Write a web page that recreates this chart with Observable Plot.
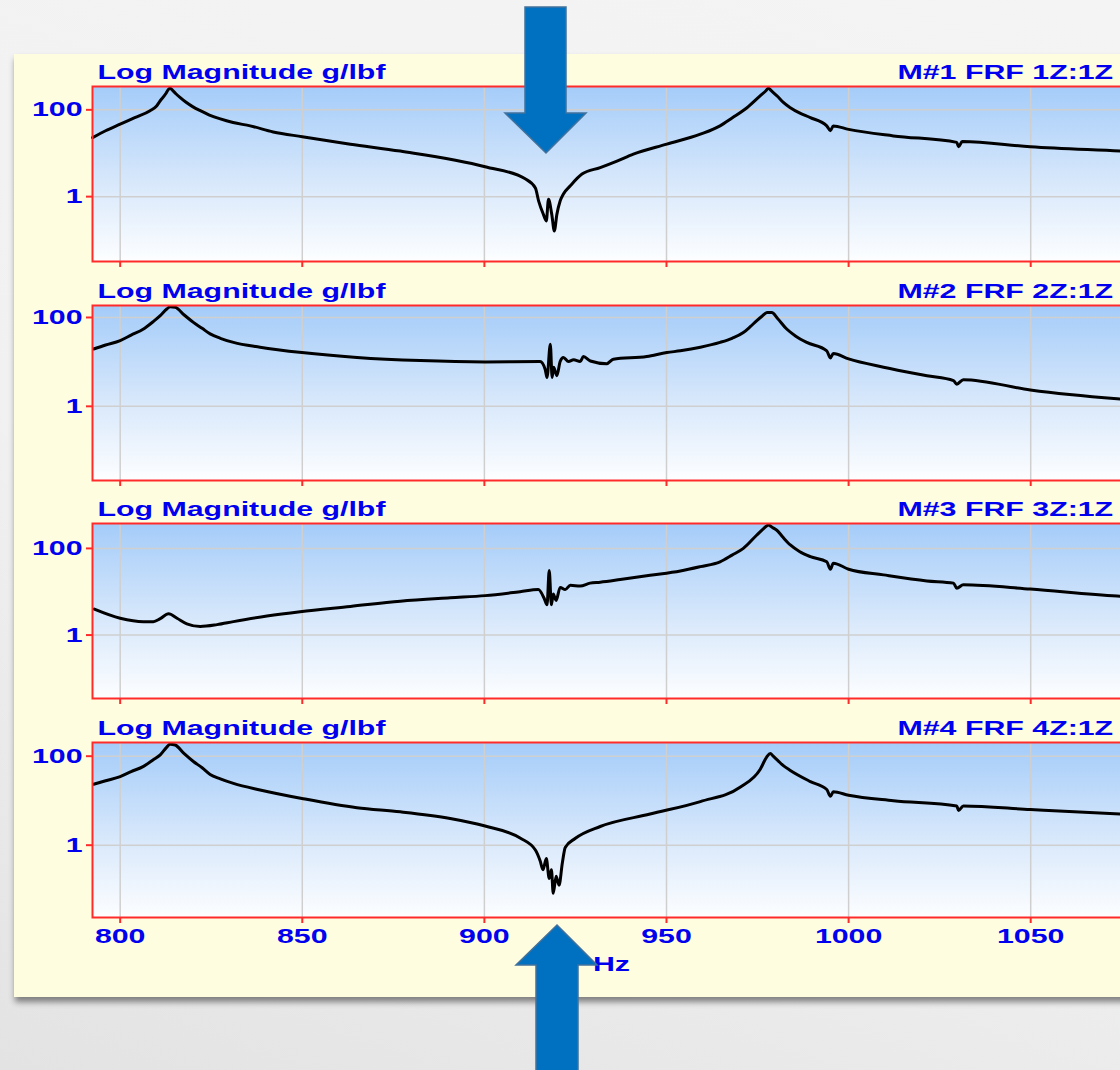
<!DOCTYPE html>
<html><head><meta charset="utf-8">
<script src="https://cdn.jsdelivr.net/npm/d3@7"></script>
<script src="https://cdn.jsdelivr.net/npm/@observablehq/plot@0.6"></script>
<style>
html,body{margin:0;padding:0;width:1120px;height:1070px;overflow:hidden;}
body{position:relative;background:linear-gradient(200deg,#f4f4f4 0%,#f1f1f1 55%,#e3e3e3 100%);font-family:"Liberation Sans",Arial,sans-serif;}
#card{position:absolute;left:14px;top:54px;width:1200px;height:943px;background:#fffde0;box-shadow:1px 5px 6px rgba(0,0,0,0.45);}
.panel{position:absolute;left:0;width:1140px;}
.panel svg{max-width:none !important;}
#arrows{position:absolute;left:0;top:0;z-index:10;}
</style></head><body>
<div id="card"></div>
<div id="charts"></div>
<svg id="arrows" width="1120" height="1070">
  <path d="M525,7 H566 V113 H586 L546,153 L505,113 H525 Z" fill="#0070c0" stroke="#41719c" stroke-width="1.5"/>
  <path d="M557,925 L597,965 H578 V1080 H536 V965 H516 Z" fill="#0070c0" stroke="#41719c" stroke-width="1.5"/>
</svg>
<script>
// ---- data ----
const xTicks = [800, 850, 900, 950, 1000, 1050];
const yTicks = [1, 100];
const yLabel = "Log Magnitude g/lbf";
const xLabel = "Hz";
const titles = ["M#1 FRF 1Z:1Z", "M#2 FRF 2Z:1Z", "M#3 FRF 3Z:1Z", "M#4 FRF 4Z:1Z"];
const xDomain = [792.4, 1077.4];
const yDomains = [[0.032, 345], [0.0214, 186], [0.0343, 376], [0.0237, 203]];

const freq1 = [792.4, 796, 800, 804, 808.2, 810, 811, 812.5, 813.1, 813.7, 814.4, 815.3, 816.5, 818, 820, 822, 824.5, 827.5, 831, 835.7, 842, 850, 863.2, 876.9, 900.2, 911.2, 914, 914.9, 916.2, 917, 917.6, 918.5, 919.2, 919.9, 920.8, 921.7, 923.6, 926.8, 931.8, 936.4, 940.9, 950.1, 959.3, 964.7, 968, 972.1, 975.7, 977.3, 978, 978.7, 980.6, 982, 984, 986.5, 989.5, 994, 995, 995.8, 1000, 1012.3, 1029.7, 1030.2, 1031.2, 1049.9, 1074.6, 1077.4];
const mag1 = [22.9, 33, 46.8, 66, 95.5, 123, 162, 234, 285, 316, 280, 235, 191, 151, 117, 95.5, 76, 61.7, 51, 42.7, 31, 24.0, 16.2, 11.2, 4.90, 2.57, 1.58, 0.79, 0.39, 0.275, 0.87, 0.39, 0.162, 0.39, 0.79, 1.15, 1.78, 3.31, 4.68, 6.61, 9.55, 16.2, 27.5, 42.7, 65, 112, 209, 275, 316, 280, 200, 150, 112, 85, 66.1, 42.7, 33.1, 42.7, 35.5, 25.1, 17.8, 14.1, 18.6, 14.1, 11.2, 10.9];

const freq2 = [792.7, 796, 800, 803, 806.4, 809, 811, 812.8, 813.7, 815.1, 817.5, 820.1, 822.5, 824.7, 827.5, 831.1, 838.4, 849.9, 865, 882.4, 900.2, 915.3, 916.7, 917.2, 918.1, 918.6, 919, 919.9, 920.8, 921.7, 923.1, 924.5, 926.3, 927.2, 929.1, 933.6, 935.4, 944.6, 950.1, 953.8, 959.3, 964.7, 968, 971.1, 973, 974.8, 976.3, 977.6, 978.9, 980.5, 983, 985.5, 988.5, 994, 995, 995.8, 1000, 1009.6, 1021.5, 1028.8, 1029.7, 1031.5, 1049.9, 1073.7, 1077.4];
const mag2 = [19.5, 24, 30.2, 40, 55.0, 80, 110, 155, 174, 170, 115, 77.6, 57, 42.7, 34, 27.5, 21.4, 16.2, 12.6, 10.7, 10.0, 10.2, 6.76, 4.47, 25.1, 4.47, 7.59, 4.90, 10.2, 12.6, 10.2, 11.2, 10.2, 13.2, 10.5, 9.12, 11.5, 13.2, 16.2, 17.8, 21.4, 27.5, 34, 45.7, 62, 85.1, 108, 129, 129, 95, 55.0, 38, 27.5, 17.8, 12.3, 15.5, 11.7, 7.59, 4.90, 3.80, 3.16, 3.98, 2.34, 1.48, 1.40];

const freq3 = [792.9, 800, 806.4, 809.1, 811, 813.3, 815.6, 818.3, 822, 826.6, 831.1, 840.3, 849.4, 863.2, 876.9, 890.6, 900.2, 909.8, 914.8, 916.4, 917.2, 917.8, 918.4, 918.9, 919.7, 920.8, 922.2, 923.6, 926.3, 929, 931.8, 937.3, 945.5, 953.8, 959.3, 964.7, 968, 971.1, 974.8, 976.5, 977.4, 978, 978.6, 979.2, 980.3, 982, 984, 986.5, 989.5, 994, 995, 995.8, 1000, 1009.6, 1021.5, 1028.8, 1029.7, 1031.5, 1049.9, 1073.7, 1077.4];
const mag3 = [3.98, 2.45, 2.04, 2.04, 2.40, 3.09, 2.45, 1.82, 1.58, 1.74, 2.04, 2.75, 3.47, 4.57, 6.03, 7.24, 8.13, 10.0, 11.2, 7.08, 5.01, 30.9, 5.01, 8.91, 6.31, 12.6, 11.2, 14.1, 13.5, 15.8, 16.6, 19.1, 24.0, 30.2, 38.0, 49.0, 70, 100, 204, 280, 325, 347, 325, 300, 263, 180, 120, 85, 64.6, 49.0, 33.1, 45.7, 33.1, 24.5, 17.8, 15.8, 12.0, 14.5, 11.5, 7.94, 7.7];

const freq4 = [792.7, 796, 800, 803, 806.4, 809, 811, 812.8, 813.7, 815.1, 817.5, 820.1, 822.5, 824.7, 827.5, 831.1, 838.4, 849.9, 865, 876.9, 890.6, 900.2, 909.8, 914, 915.3, 916.1, 917, 917.8, 918.4, 918.9, 919.7, 920.5, 921.4, 922.2, 924.9, 931.8, 945.5, 959.3, 970.2, 975.7, 977.5, 978.5, 979.3, 980.6, 982, 984, 989.5, 994, 995, 995.8, 1000, 1012.3, 1029.7, 1030.2, 1031.5, 1049.9, 1074.6, 1077.4];
const mag4 = [23.4, 28, 34.7, 45, 58.9, 82, 107, 160, 186, 178, 115, 75.9, 55, 38.9, 31, 24.5, 17.4, 11.2, 6.92, 5.62, 3.98, 2.69, 1.45, 0.78, 0.447, 0.282, 0.50, 0.178, 0.282, 0.083, 0.20, 0.126, 0.398, 0.89, 1.41, 2.63, 5.01, 9.55, 20.0, 50.1, 95, 115, 100, 79.4, 62, 47.9, 26.9, 17.8, 12.6, 15.8, 13.2, 10.0, 7.59, 6.03, 7.59, 6.31, 5.01, 4.9];

const series = [[freq1, mag1], [freq2, mag2], [freq3, mag3], [freq4, mag4]];
const frameTops = [86, 305, 523, 742];

// ---- styling ----
const RED = "#ff2b2b", BLUE = "#0000ee", SX = 1.48;

function stretch(svg) {
  svg.querySelectorAll("text").forEach(t => {
    const tr = t.getAttribute("transform");
    if (tr) t.setAttribute("transform", tr + ` scale(${SX},1)`);
    else {
      const x = parseFloat(t.getAttribute("x")) || 0;
      t.setAttribute("x", x / SX);
      t.setAttribute("transform", `scale(${SX},1)`);
    }
  });
}

const host = document.getElementById("charts");
series.forEach(([freq, mag], i) => {
  const last = i === 3;
  const mt = 34, mb = last ? 70 : 12, fh = 175;
  const data = freq.map((f, j) => ({f, m: mag[j]})).filter(d => d.m != null);
  const gid = "bg" + i;
  const chart = Plot.plot({
    width: 1140, height: fh + mt + mb,
    marginLeft: 92, marginRight: 10, marginTop: mt, marginBottom: mb,
    style: {background: "transparent", overflow: "visible", maxWidth: "none", fontFamily: "'Liberation Sans', Arial, sans-serif", fontWeight: "bold", fontSize: "20.5px", color: BLUE},
    x: {domain: xDomain, axis: null},
    y: {type: "log", domain: yDomains[i], axis: null},
    marks: [
      () => {
        const defs = d3.create("svg:defs");
        const g = defs.append("linearGradient").attr("id", gid).attr("x1", 0).attr("y1", 0).attr("x2", 0).attr("y2", 1);
        g.append("stop").attr("offset", "0%").attr("stop-color", "#a4ccf9");
        g.append("stop").attr("offset", "55%").attr("stop-color", "#d8e8fb");
        g.append("stop").attr("offset", "100%").attr("stop-color", "#fdfeff");
        return defs.node();
      },
      Plot.frame({fill: `url(#${gid})`, stroke: "none"}),
      Plot.gridX({ticks: xTicks, stroke: "#cfcfcf", strokeOpacity: 1, strokeWidth: 1.5}),
      Plot.gridY({ticks: yTicks, stroke: "#cfcfcf", strokeOpacity: 1, strokeWidth: 1.5}),
      Plot.axisX({ticks: xTicks, tickSize: 6, tickPadding: 5, stroke: RED, strokeWidth: 2, fill: BLUE,
        tickFormat: last ? (d => String(d)) : (() => ""), label: null}),
      Plot.axisY({ticks: yTicks, tickSize: 6, tickPadding: 4, stroke: RED, strokeWidth: 2, fill: BLUE,
        tickFormat: d => String(d), label: null}),
      Plot.line(data, {x: "f", y: "m", stroke: "black", strokeWidth: 3, curve: "monotone-x"}),
      Plot.frame({stroke: RED, strokeWidth: 2}),
      Plot.text([yLabel], {text: d => d, frameAnchor: "top-left", textAnchor: "start", lineAnchor: "bottom", dx: 5, dy: -8, fill: BLUE}),
      Plot.text([titles[i]], {text: d => d, frameAnchor: "top-right", textAnchor: "start", lineAnchor: "bottom", dx: -233, dy: -8, fill: BLUE}),
      last ? Plot.text([xLabel], {text: d => d, frameAnchor: "bottom", lineAnchor: "middle", dy: 47, fill: BLUE}) : null
    ]
  });
  stretch(chart);
  const wrap = document.createElement("div");
  wrap.className = "panel";
  wrap.style.top = (frameTops[i] - mt) + "px";
  wrap.appendChild(chart);
  host.appendChild(wrap);
});
</script>
</body></html>
